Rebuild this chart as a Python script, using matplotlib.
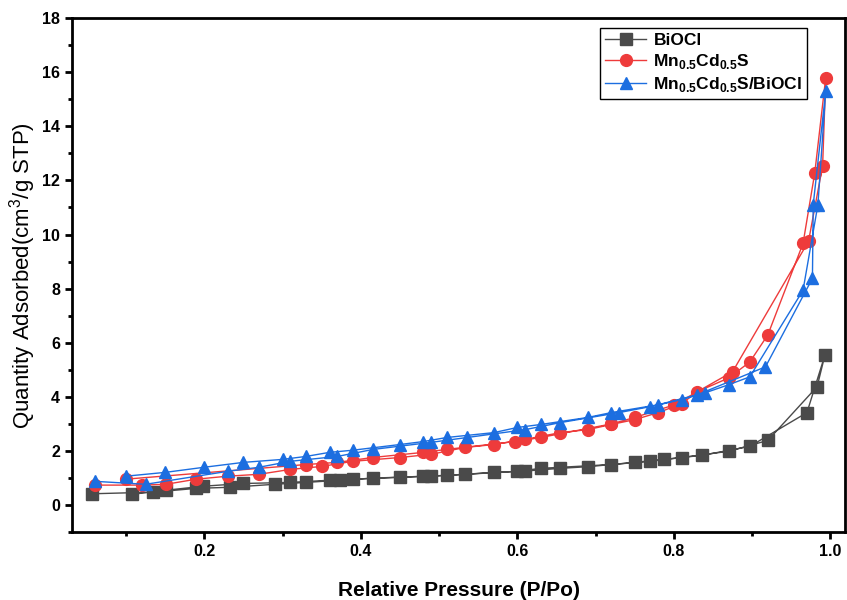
import numpy as np
import matplotlib
matplotlib.use("Agg")
import matplotlib.pyplot as plt
from matplotlib.ticker import MultipleLocator

plt.rcParams['font.family'] = ['Liberation Sans', 'DejaVu Sans']
plt.rcParams['mathtext.fontset'] = 'custom'
plt.rcParams['mathtext.rm'] = 'Liberation Sans'
plt.rcParams['mathtext.bf'] = 'Liberation Sans:bold'

# BiOCl: adsorption then desorption branch
bioc_ads_x = [0.057, 0.135, 0.19, 0.233, 0.29, 0.33, 0.374, 0.416, 0.49, 0.533, 0.57,
              0.61, 0.655, 0.69, 0.75, 0.787, 0.836, 0.897, 0.97, 0.993]
bioc_ads_y = [0.42, 0.48, 0.62, 0.66, 0.77, 0.84, 0.92, 1.00, 1.07, 1.14, 1.21,
              1.26, 1.36, 1.42, 1.58, 1.69, 1.84, 2.17, 3.42, 5.55]
bioc_des_x = [0.983, 0.92, 0.87, 0.81, 0.77, 0.72, 0.63, 0.60, 0.51, 0.48, 0.45,
              0.39, 0.36, 0.31, 0.25, 0.199, 0.151, 0.108]
bioc_des_y = [4.38, 2.39, 1.99, 1.76, 1.62, 1.50, 1.36, 1.25, 1.10, 1.07, 1.03,
              0.96, 0.92, 0.84, 0.80, 0.70, 0.55, 0.40]

# Mn0.5Cd0.5S
mcs_ads_x = [0.06, 0.12, 0.151, 0.19, 0.23, 0.27, 0.31, 0.35, 0.39, 0.45, 0.49, 0.533,
             0.57, 0.61, 0.655, 0.69, 0.72, 0.75, 0.78, 0.81, 0.83, 0.87, 0.897, 0.92,
             0.965, 0.98, 0.994]
mcs_ads_y = [0.74, 0.74, 0.77, 0.96, 1.07, 1.14, 1.32, 1.43, 1.62, 1.76, 1.88, 2.13,
             2.24, 2.43, 2.68, 2.79, 2.98, 3.16, 3.42, 3.75, 4.19, 4.70, 5.29, 6.29,
             9.67, 12.28, 15.8]
mcs_des_x = [0.99, 0.972, 0.875, 0.80, 0.75, 0.72, 0.63, 0.597, 0.51, 0.48, 0.415,
             0.37, 0.33, 0.10]
mcs_des_y = [12.54, 9.75, 4.93, 3.70, 3.24, 3.00, 2.50, 2.35, 2.06, 1.95, 1.76,
             1.58, 1.50, 0.96]

# Mn0.5Cd0.5S/BiOCl
cmp_ads_x = [0.06, 0.125, 0.23, 0.27, 0.31, 0.37, 0.416, 0.49, 0.536, 0.61, 0.655,
             0.73, 0.77, 0.81, 0.84, 0.87, 0.897, 0.965, 0.984, 0.994]
cmp_ads_y = [0.88, 0.77, 1.25, 1.40, 1.62, 1.80, 2.06, 2.32, 2.50, 2.79, 3.05,
             3.42, 3.64, 3.90, 4.15, 4.45, 4.74, 7.94, 11.1, 15.3]
cmp_des_x = [0.978, 0.977, 0.917, 0.83, 0.78, 0.72, 0.69, 0.63, 0.60, 0.57, 0.51,
             0.48, 0.45, 0.39, 0.36, 0.33, 0.30, 0.25, 0.20, 0.15, 0.10]
cmp_des_y = [11.1, 8.38, 5.11, 4.08, 3.71, 3.42, 3.24, 2.98, 2.87, 2.68, 2.50,
             2.35, 2.24, 2.03, 1.95, 1.80, 1.69, 1.58, 1.40, 1.21, 1.07]

labels = ['BiOCl', r'Mn$_{\mathbf{0.5}}$Cd$_{\mathbf{0.5}}$S',
          r'Mn$_{\mathbf{0.5}}$Cd$_{\mathbf{0.5}}$S/BiOCl']

fig = plt.figure(figsize=(8.47, 6), dpi=100)
ax = fig.add_axes([0.085, 0.113, 0.913, 0.857])

ax.plot(bioc_ads_x + bioc_des_x, bioc_ads_y + bioc_des_y, color='#4a4a4a',
        lw=1, marker='s', ms=8, label=labels[0])
ax.plot(mcs_ads_x + mcs_des_x, mcs_ads_y + mcs_des_y, color='#ee3b3b',
        lw=1, marker='o', ms=8.5, label=labels[1])
ax.plot(cmp_ads_x + cmp_des_x, cmp_ads_y + cmp_des_y, color='#1c6ee0',
        lw=1, marker='^', ms=9, label=labels[2])

ax.set_xlim(0.031, 1.019)
ax.set_ylim(-1, 18)
ax.xaxis.set_major_locator(MultipleLocator(0.2))
ax.xaxis.set_minor_locator(MultipleLocator(0.1))
ax.yaxis.set_major_locator(MultipleLocator(2))
ax.yaxis.set_minor_locator(MultipleLocator(1))
ax.tick_params(which='both', direction='out', width=2, top=False, right=False)
ax.tick_params(which='major', length=5, labelsize=11.5)
ax.tick_params(which='minor', length=3)
for lab in ax.get_xticklabels() + ax.get_yticklabels():
    lab.set_fontweight('bold')
for sp in ax.spines.values():
    sp.set_linewidth(2)

ax.set_xlabel('Relative Pressure (P/Po)', fontsize=15, fontweight='bold', labelpad=16)
ax.set_ylabel(r'Quantity Adsorbed(cm$^{3}$/g STP)', fontsize=16, labelpad=3)

leg = ax.legend(loc='upper right', bbox_to_anchor=(0.95, 0.98), fancybox=False,
                edgecolor='black', framealpha=1, fontsize=12.5, handlelength=2.4,
                borderpad=0.25, labelspacing=0.25, handletextpad=0.4, borderaxespad=0)
leg.get_frame().set_linewidth(1)
for t in leg.get_texts():
    t.set_fontweight('bold')

fig.savefig('out.png', dpi=100)
